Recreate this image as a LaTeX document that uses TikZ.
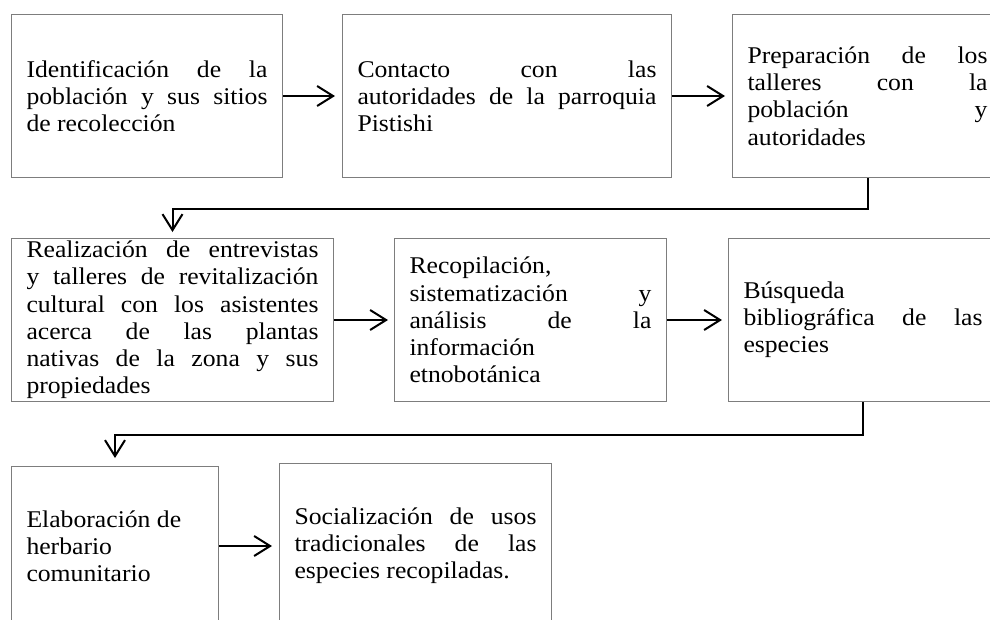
\documentclass[tikz,border=0pt]{standalone}
\usepackage{fontspec}
\setmainfont{Liberation Serif}[FakeStretch=1.07]
\usetikzlibrary{arrows.meta}
\definecolor{boxgray}{RGB}{125,125,125}
\newcommand\jus[2]{\makebox[#1pt][s]{#2}}
\newcommand\lft[2]{\makebox[#1pt][l]{#2}}
\begin{document}
\begin{tikzpicture}[x=1pt,y=-1pt,
  stepbox/.style={draw=boxgray, line width=1pt, inner xsep=15pt, inner ysep=0pt,
    anchor=north west, align=left, text=black,
    font=\fontsize{24}{27.2}\selectfont},
  conn/.style={line width=2pt, line join=miter,
    -{Straight Barb[length=16pt,width=20pt,line width=2pt]}}]
\useasboundingbox (0,0) rectangle (990,619);
\clip (0,0) rectangle (990,619);
\fill[white] (0,0) rectangle (990,619);

\node[stepbox, minimum width=271pt, minimum height=163pt] (b1) at (11,14)
  {\jus{241}{Identificación de la}\\\jus{241}{población y sus sitios}\\\lft{241}{de recolección}};
\node[stepbox, minimum width=329pt, minimum height=163pt] (b2) at (342,14)
  {\jus{299}{Contacto con las}\\\jus{299}{autoridades de la parroquia}\\\lft{299}{Pistishi}};
\node[stepbox, minimum width=270pt, minimum height=163pt] (b3) at (732,14)
  {\jus{240}{Preparación de los}\\\jus{240}{talleres con la}\\\jus{240}{población y}\\\lft{240}{autoridades}};

\node[stepbox, minimum width=322pt, minimum height=163pt] (b4) at (11,238)
  {\jus{292}{Realización de entrevistas}\\\jus{292}{y talleres de revitalización}\\\jus{292}{cultural con los asistentes}\\\jus{292}{acerca de las plantas}\\\jus{292}{nativas de la zona y sus}\\\lft{292}{propiedades}};
\node[stepbox, minimum width=272pt, minimum height=163pt] (b5) at (394,238)
  {\lft{242}{Recopilación,}\\\jus{242}{sistematización y}\\\jus{242}{análisis de la}\\\lft{242}{información}\\\lft{242}{etnobotánica}};
\node[stepbox, minimum width=269pt, minimum height=163pt] (b6) at (728,238)
  {\lft{239}{Búsqueda}\\\jus{239}{bibliográfica de las}\\\lft{239}{especies}};

\node[stepbox, minimum width=207pt, minimum height=159pt] (b7) at (11,466)
  {\lft{177}{Elaboración de}\\\lft{177}{herbario}\\\lft{177}{comunitario}};
\node[stepbox, minimum width=272pt, minimum height=165pt] (b8) at (279,463)
  {\jus{242}{Socialización de usos}\\\jus{242}{tradicionales de las}\\\lft{242}{especies recopiladas.}};

\draw[conn, shorten >=7pt] (b1.east) -- (b2.west);
\draw[conn, shorten >=7pt] (b2.east) -- (b3.west);
\draw[conn, shorten >=6pt] (b3.south) -- ++(0,31) -| (b4.north);
\draw[conn, shorten >=6pt] (b4.east) -- (b5.west);
\draw[conn, shorten >=6pt] (b5.east) -- (b6.west);
\draw[conn, shorten >=8pt] (b6.south) -- ++(0,33) -| (b7.north);
\draw[conn, shorten >=7pt] (b7.east) -- (b8.west);
\end{tikzpicture}
\end{document}
